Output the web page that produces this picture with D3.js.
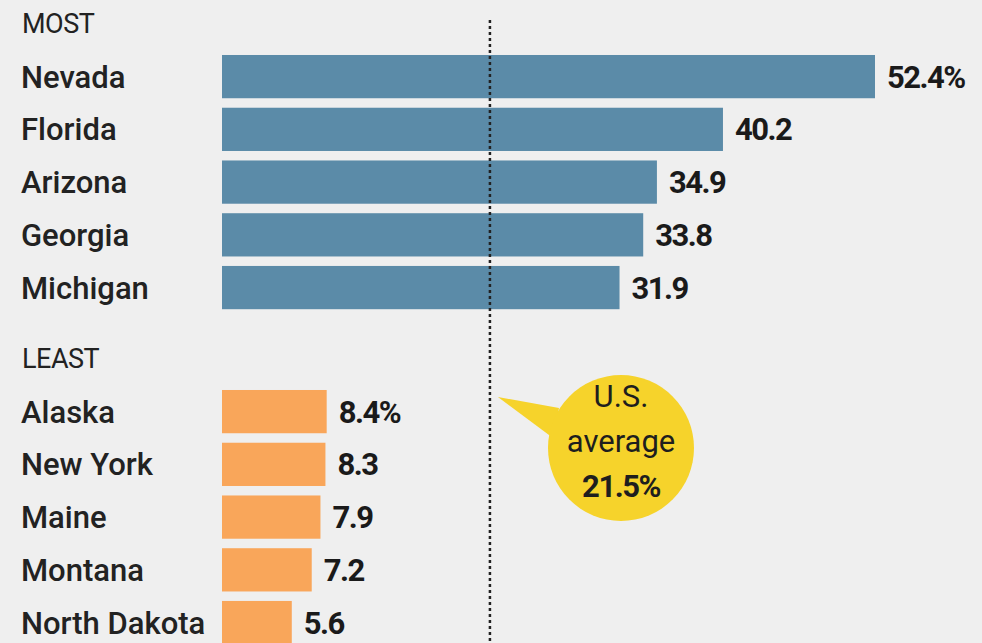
<!DOCTYPE html>
<html>
<head>
<meta charset="utf-8">
<script src="https://cdn.jsdelivr.net/npm/d3@7.9.0/dist/d3.min.js"></script>
<style>
  html, body { margin: 0; padding: 0; background: #efefef; }
  svg { display: block; font-family: Roboto, "DejaVu Sans", sans-serif; }
</style>
</head>
<body>
<svg width="982" height="643"></svg>
<script>
// ── data ──────────────────────────────────────────────
const mostStates = ['Nevada', 'Florida', 'Arizona', 'Georgia', 'Michigan'];
const mostValues = [52.4, 40.2, 34.9, 33.8, 31.9];
const leastStates = ['Alaska', 'New York', 'Maine', 'Montana', 'North Dakota'];
const leastValues = [8.4, 8.3, 7.9, 7.2, 5.6];
const usAverage = 21.5;

const svg = d3.select('svg');

let x = d3.scaleLinear().domain([0, 52.4]).range([222, 875]);

function drawGroup(title, names, values, color, y0, titleY) {
  let y = d3.scaleBand()
    .domain(names)
    .range([y0, y0 + 273.2])
    .padding(0.18);

  svg.append('text')
    .attr('x', 22).attr('y', titleY)
    .attr('font-size', 27).attr('fill', '#222')
    .attr('letter-spacing', -0.5)
    .text(title);

  let rows = names.map((n, i) => ({ name: n, value: values[i], i }));

  svg.selectAll(null).data(rows).enter()
    .append('rect')
    .attr('x', x(0))
    .attr('y', (d) => y(d.name))
    .attr('width', (d) => x(d.value) - x(0))
    .attr('height', y.bandwidth())
    .attr('fill', color);

  // state names
  svg.selectAll(null).data(rows).enter()
    .append('text')
    .attr('x', 21)
    .attr('y', (d) => y(d.name) + y.bandwidth() / 2 + 11)
    .attr('font-size', 31).attr('font-weight', 500).attr('fill', '#222')
    .text((d) => d.name);

  // values
  svg.selectAll(null).data(rows).enter()
    .append('text')
    .attr('x', (d) => x(d.value) + 12)
    .attr('y', (d) => y(d.name) + y.bandwidth() / 2 + 11)
    .attr('font-size', 31).attr('font-weight', 'bold').attr('fill', '#1a1a1a')
    .attr('letter-spacing', -1.5)
    .text((d) => (d.i === 0 ? d.value.toFixed(1) + '%' : d.value.toFixed(1)));
}

drawGroup('MOST', mostStates, mostValues, '#5b8ba8', 45.5, 33);
drawGroup('LEAST', leastStates, leastValues, '#f9a65a', 380.5, 368);

// average line
svg.append('line')
  .attr('x1', x(usAverage)).attr('x2', x(usAverage))
  .attr('y1', 20).attr('y2', 643)
  .attr('stroke', '#222').attr('stroke-width', 2.5)
  .attr('stroke-dasharray', '3,3');

// bubble
const cx = 621, cy = 448, r = 73;
svg.append('path')
  .attr('d', `M${x(usAverage) + 8},397 L${cx - 62},${cy - 40} L${cx - 68},${cy - 10} Z`)
  .attr('fill', '#f6d32b');
svg.append('circle')
  .attr('cx', cx).attr('cy', cy).attr('r', r)
  .attr('fill', '#f6d32b');

const bubbleLines = ['U.S.', 'average', usAverage + '%'];
bubbleLines.forEach((t, i) => {
  svg.append('text')
    .attr('x', cx).attr('y', 407 + i * 45)
    .attr('text-anchor', 'middle')
    .attr('font-size', 31)
    .attr('font-weight', i === 2 ? 'bold' : 'normal')
    .attr('letter-spacing', i === 2 ? -1.5 : 0)
    .attr('fill', '#1e1e1e')
    .text(t);
});
</script>
</body>
</html>
